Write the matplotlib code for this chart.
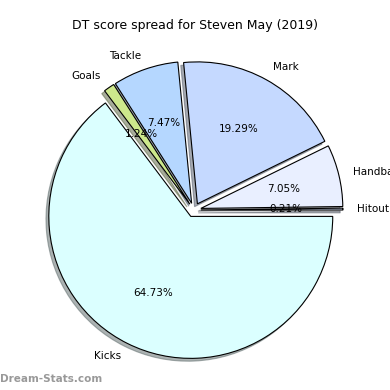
import matplotlib
matplotlib.use("Agg")
import matplotlib.pyplot as plt

labels = ["Hitout", "Handball", "Mark", "Tackle", "Goals", "Kicks"]
values = [0.21, 7.05, 19.29, 7.47, 1.24, 64.73]
colors = ["#d8e4ff", "#e9efff", "#c5d9ff", "#b5d7ff", "#cde88c", "#dbffff"]
explode = [0.05, 0.05, 0.05, 0.05, 0.05, 0.05]

total = sum(values)

fig = plt.figure(figsize=(3.9, 3.9), dpi=100)
ax = fig.add_axes([0.0423, 0.0064, 0.910, 0.910])

ax.pie(values, labels=labels, colors=colors, explode=explode,
       autopct=lambda p: "%.2f%%" % (p * total / 100),
       shadow={"ox": -0.0144, "oy": -0.0144, "shade": 0.6},
       startangle=0,
       wedgeprops={"edgecolor": "black", "linewidth": 0.8},
       textprops={"fontsize": 7.5})
ax.set_xlim(-1.25, 1.25)
ax.set_ylim(-1.25, 1.25)
ax.set_aspect("equal")

fig.text(0.5, 1 - 25 / 390, "DT score spread for Steven May (2019)",
         ha="center", va="center", fontsize=9)
fig.text(0.0, 1 - 379 / 390, "Dream-Stats.com", ha="left", va="center",
         fontsize=7.5, fontweight="bold", color="#999999")

fig.savefig("out.png", dpi=100)
